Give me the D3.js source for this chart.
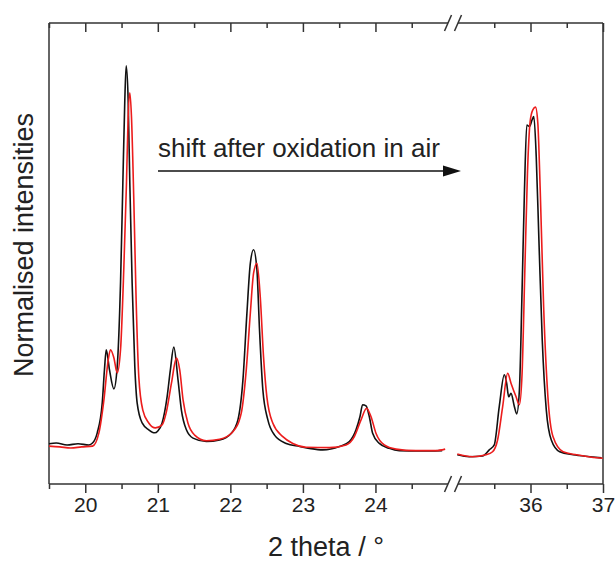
<!DOCTYPE html>
<html>
<head>
<meta charset="utf-8">
<script src="https://cdn.jsdelivr.net/npm/d3@7"></script>
<style>
  body { margin: 0; background: #fff; }
  text { font-family: "Liberation Sans", Arial, sans-serif; fill: #222; }
</style>
</head>
<body>
<svg width="615" height="562"></svg>
<script>
// 2theta / normalised intensity
const blackLeft = [
  [19.50, 0.003], [19.60, 0.005], [19.75, 0.000], [19.90, 0.003], [20.05, 0.000],
  [20.10, 0.005], [20.165, 0.032], [20.234, 0.111], [20.265, 0.200], [20.289, 0.251],
  [20.334, 0.198], [20.394, 0.148], [20.44, 0.206], [20.486, 0.427], [20.518, 0.691],
  [20.545, 0.910], [20.564, 1.000], [20.591, 0.910], [20.614, 0.691], [20.646, 0.427],
  [20.683, 0.206], [20.715, 0.111], [20.784, 0.058], [20.875, 0.040], [20.958, 0.032],
  [21.00, 0.037], [21.059, 0.058], [21.128, 0.127], [21.173, 0.198], [21.22, 0.258],
  [21.279, 0.171], [21.325, 0.092], [21.394, 0.040], [21.485, 0.018], [21.669, 0.009],
  [21.852, 0.013], [22.013, 0.031], [22.104, 0.066], [22.173, 0.171], [22.228, 0.347],
  [22.275, 0.479], [22.32, 0.515], [22.366, 0.462], [22.402, 0.303], [22.448, 0.145],
  [22.517, 0.066], [22.609, 0.026], [22.77, 0.004], [22.953, -0.004], [23.09, -0.009],
  [23.273, -0.013], [23.503, -0.004], [23.64, 0.009], [23.732, 0.040], [23.787, 0.075],
  [23.823, 0.106], [23.87, 0.103], [23.915, 0.075], [23.961, 0.031], [24.053, 0.004],
  [24.19, -0.009], [24.328, -0.015], [24.60, -0.016], [24.92, -0.015]
];
const redLeft = [
  [19.50, -0.003], [19.65, -0.005], [19.80, -0.008], [19.95, -0.005], [20.10, -0.003],
  [20.188, 0.032], [20.257, 0.119], [20.316, 0.224], [20.348, 0.251], [20.394, 0.230],
  [20.44, 0.190], [20.486, 0.251], [20.532, 0.470], [20.568, 0.691], [20.591, 0.865],
  [20.614, 0.929], [20.637, 0.865], [20.669, 0.646], [20.701, 0.383], [20.738, 0.179],
  [20.793, 0.092], [20.875, 0.058], [20.967, 0.045], [21.059, 0.053], [21.119, 0.088],
  [21.188, 0.163], [21.257, 0.229], [21.302, 0.198], [21.348, 0.119], [21.416, 0.057],
  [21.508, 0.026], [21.669, 0.011], [21.852, 0.015], [22.035, 0.035], [22.15, 0.084],
  [22.219, 0.198], [22.275, 0.347], [22.32, 0.453], [22.366, 0.479], [22.412, 0.391],
  [22.457, 0.233], [22.503, 0.127], [22.586, 0.057], [22.723, 0.022], [22.861, 0.004],
  [23.045, -0.006], [23.365, -0.007], [23.595, 0.000], [23.709, 0.022], [23.801, 0.066],
  [23.878, 0.097], [23.938, 0.075], [24.007, 0.031], [24.122, 0.000], [24.283, -0.011],
  [24.558, -0.015], [24.833, -0.015], [24.961, -0.011]
];
const blackRight = [
  [34.99, -0.026], [35.153, -0.031], [35.338, -0.029], [35.431, -0.013], [35.50, 0.000],
  [35.569, 0.101], [35.639, 0.185], [35.671, 0.163], [35.699, 0.127], [35.731, 0.136],
  [35.778, 0.101], [35.81, 0.082], [35.847, 0.145], [35.884, 0.409], [35.917, 0.673],
  [35.949, 0.844], [35.986, 0.840], [36.023, 0.858], [36.046, 0.866], [36.079, 0.761],
  [36.116, 0.541], [36.162, 0.277], [36.218, 0.092], [36.287, 0.013], [36.403, -0.018],
  [36.588, -0.026], [36.819, -0.031], [36.98, -0.034]
];
const redRight = [
  [34.99, -0.024], [35.199, -0.031], [35.384, -0.026], [35.477, -0.018], [35.546, 0.013],
  [35.616, 0.101], [35.685, 0.189], [35.731, 0.163], [35.801, 0.127], [35.847, 0.106],
  [35.884, 0.189], [35.921, 0.453], [35.958, 0.717], [35.995, 0.853], [36.032, 0.884],
  [36.069, 0.891], [36.101, 0.849], [36.134, 0.673], [36.181, 0.365], [36.24, 0.127],
  [36.31, 0.022], [36.449, -0.018], [36.635, -0.026], [36.866, -0.033], [36.996, -0.035]
];

const leftMajor = [20, 21, 22, 23, 24];
const leftMinor = [19.5, 20.5, 21.5, 22.5, 23.5, 24.5];
const rightMajor = [36, 37];
const rightMinor = [35.5, 36.5];

const svg = d3.select("svg");
const plotTop = 23, plotBottom = 484, plotLeft = 49, plotRight = 603;
const breakL = 448, breakR = 458;

const xLeft = d3.scaleLinear().domain([19.5, 25]).range([plotLeft, breakL]);
const xRight = d3.scaleLinear().domain([35, 37]).range([breakR, plotRight]);
const y = d3.scaleLinear().domain([-0.103, 1.113]).range([plotBottom, plotTop]);

const ink = "#333";

// frame pieces
function hline(y0, x0, x1) {
  svg.append("line").attr("x1", x0).attr("x2", x1).attr("y1", y0).attr("y2", y0)
    .attr("stroke", ink).attr("stroke-width", 1.5);
}
hline(plotTop, plotLeft, breakL); hline(plotTop, breakR, plotRight);
hline(plotBottom, plotLeft, breakL); hline(plotBottom, breakR, plotRight);
svg.append("line").attr("x1", plotLeft).attr("x2", plotLeft).attr("y1", plotTop).attr("y2", plotBottom)
  .attr("stroke", ink).attr("stroke-width", 1.5);
svg.append("line").attr("x1", plotRight).attr("x2", plotRight).attr("y1", plotTop).attr("y2", plotBottom)
  .attr("stroke", ink).attr("stroke-width", 1.5);

// break marks
[plotTop, plotBottom].forEach(yy => {
  [breakL, breakR].forEach(xx => {
    svg.append("line").attr("x1", xx - 3.5).attr("y1", yy + 8).attr("x2", xx + 3.5).attr("y2", yy - 8)
      .attr("stroke", ink).attr("stroke-width", 1.5);
  });
});

// ticks with d3 axes
function ticks(scale, values, len, labels) {
  const gb = svg.append("g").attr("transform", `translate(0,${plotBottom})`)
    .call(d3.axisBottom(scale).tickValues(values).tickSize(len).tickSizeOuter(0)
      .tickFormat(labels ? d3.format("d") : ""));
  gb.select(".domain").remove();
  gb.selectAll(".tick line").attr("stroke", ink).attr("stroke-width", 1.5);
  gb.selectAll(".tick text").attr("font-size", 21).attr("y", 13).attr("dy", "0.71em")
    .style("font-family", '"Liberation Sans", Arial, sans-serif').attr("fill", "#222");
  const gt = svg.append("g").attr("transform", `translate(0,${plotTop})`)
    .call(d3.axisBottom(scale).tickValues(values).tickSize(len).tickSizeOuter(0).tickFormat(""));
  gt.select(".domain").remove();
  gt.selectAll(".tick line").attr("stroke", ink).attr("stroke-width", 1.5);
}
ticks(xLeft, leftMajor, 9, true);
ticks(xLeft, leftMinor, 5, false);
ticks(xRight, rightMajor, 9, true);
ticks(xRight, rightMinor, 5, false);

// curves
const lineL = d3.line().x(d => xLeft(d[0])).y(d => y(d[1])).curve(d3.curveMonotoneX);
const lineR = d3.line().x(d => xRight(d[0])).y(d => y(d[1])).curve(d3.curveMonotoneX);
const series = [
  [blackLeft, lineL, "#111"], [blackRight, lineR, "#111"],
  [redLeft, lineL, "#ec1c1c"], [redRight, lineR, "#ec1c1c"]
];
series.forEach(([data, gen, col]) => {
  svg.append("path").datum(data).attr("d", gen)
    .attr("fill", "none").attr("stroke", col).attr("stroke-width", 1.6)
    .attr("stroke-linejoin", "round");
});

// annotation
svg.append("text").attr("x", 158).attr("y", 157).attr("font-size", 26)
  .text("shift after oxidation in air");
svg.append("line").attr("x1", 158).attr("x2", 446).attr("y1", 171).attr("y2", 171)
  .attr("stroke", "#111").attr("stroke-width", 1.6);
svg.append("path").attr("d", "M443,165.5 L461,171 L443,176.5 Z").attr("fill", "#111");

// axis titles
svg.append("text").attr("x", 326).attr("y", 556).attr("text-anchor", "middle")
  .attr("font-size", 27).text("2 theta / °");
svg.append("text").attr("transform", "translate(33,245) rotate(-90)")
  .attr("text-anchor", "middle").attr("font-size", 27).text("Normalised intensities");
</script>
</body>
</html>
